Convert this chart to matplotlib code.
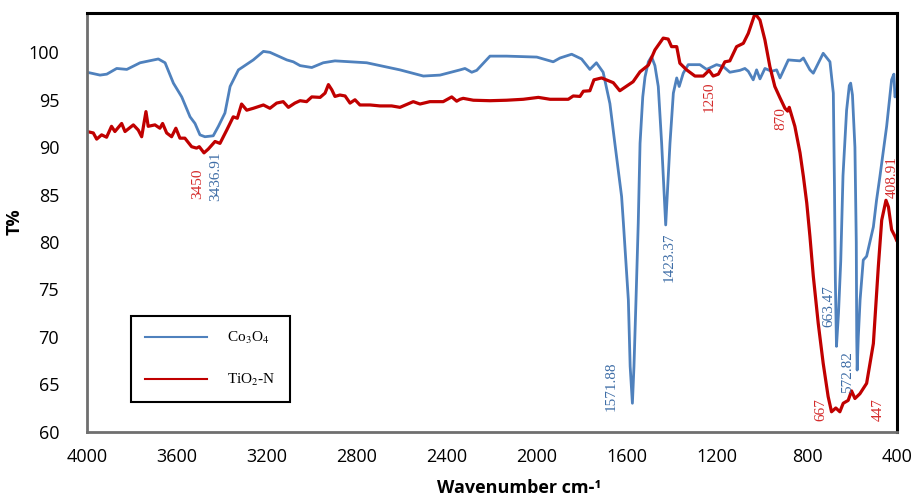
import matplotlib
matplotlib.use("Agg")
import matplotlib.pyplot as plt
from matplotlib.lines import Line2D

plt.rcParams['mathtext.fontset'] = 'stix'

# ---- data ----
wn_co3o4 = [4000, 3942, 3912, 3868, 3823, 3764, 3683, 3653, 3616, 3579, 3542, 3520,
            3498, 3476, 3439, 3416, 3387, 3364, 3327, 3261, 3216, 3187, 3112, 3083,
            3053, 3001, 2950, 2898, 2757, 2609, 2505, 2431, 2342, 2320, 2290, 2268,
            2209, 2135, 2001, 1928, 1898, 1846, 1802, 1765, 1736, 1706, 1676, 1654,
            1639, 1624, 1616, 1594, 1586, 1576, 1569, 1560, 1550, 1542, 1530, 1520,
            1505, 1491, 1476, 1461, 1446, 1428, 1409, 1394, 1379, 1368, 1350, 1328,
            1276, 1246, 1202, 1172, 1143, 1098, 1076, 1061, 1039, 1024, 1009, 987,
            957, 935, 920, 883, 831, 816, 787, 772, 728, 698, 683, 678, 674, 669,
            660, 650, 640, 624, 612, 606, 598, 587, 581, 579, 577, 572, 564, 550,
            535, 505, 491, 476, 446, 424, 414, 409, 405]
t_co3o4 = [97.9, 97.6, 97.7, 98.3, 98.2, 98.9, 99.3, 98.9, 96.75, 95.3, 93.2, 92.5,
           91.3, 91.1, 91.2, 92.2, 93.6, 96.4, 98.15, 99.2, 100.1, 100.0, 99.2, 99.0,
           98.6, 98.4, 98.9, 99.1, 98.9, 98.15, 97.5, 97.6, 98.15, 98.3, 97.9, 98.1,
           99.6, 99.6, 99.5, 99.0, 99.4, 99.8, 99.3, 98.2, 98.9, 97.9, 94.6, 90.4,
           87.6, 84.8, 82.0, 73.9, 66.9, 63.0, 66.9, 73.9, 82.0, 90.4, 95.3, 97.4,
           99.0, 99.55, 98.6, 96.4, 90.4, 81.8, 90.4, 95.7, 97.3, 96.4, 97.8, 98.7,
           98.7, 98.2, 98.7, 98.5, 97.9, 98.1, 98.3, 98.0, 97.1, 98.15, 97.2, 98.3,
           98.0, 98.15, 97.3, 99.2, 99.1, 99.4, 98.15, 97.8, 99.9, 99.0, 95.7, 86.0,
           76.0, 69.0, 72.5, 78.0, 87.0, 93.9, 96.5, 96.75, 95.5, 90.0, 80.0, 70.0,
           66.5, 70.0, 73.9, 78.1, 78.5, 81.6, 84.4, 86.9, 92.2, 97.1, 97.7, 95.3, 95.5]

wn_tio2n = [4000, 3972, 3957, 3935, 3913, 3891, 3876, 3846, 3831, 3794, 3772, 3757,
            3738, 3728, 3698, 3676, 3664, 3646, 3624, 3605, 3587, 3565, 3535, 3513,
            3501, 3480, 3461, 3431, 3409, 3379, 3350, 3332, 3313, 3290, 3261, 3216,
            3187, 3157, 3128, 3105, 3076, 3053, 3024, 3001, 2964, 2942, 2927, 2912,
            2898, 2876, 2853, 2831, 2809, 2787, 2742, 2698, 2646, 2609, 2550, 2520,
            2476, 2431, 2417, 2379, 2357, 2342, 2328, 2283, 2209, 2135, 2061, 1994,
            1942, 1861, 1839, 1809, 1794, 1765, 1747, 1713, 1661, 1632, 1610, 1573,
            1542, 1505, 1476, 1439, 1417, 1402, 1379, 1365, 1335, 1298, 1261, 1235,
            1217, 1194, 1165, 1143, 1113, 1083, 1061, 1031, 1009, 987, 965, 943,
            920, 898, 886, 879, 854, 831, 816, 801, 787, 772, 750, 728, 706, 691,
            672, 654, 639, 617, 602, 587, 565, 535, 505, 483, 468, 449, 438, 424, 409, 402]
t_tio2n = [91.65, 91.5, 90.85, 91.3, 91.05, 92.2, 91.65, 92.5, 91.65, 92.35, 91.8, 91.1,
           93.75, 92.2, 92.35, 92.0, 92.5, 91.5, 91.1, 92.0, 90.95, 90.95, 90.05, 89.9,
           90.05, 89.4, 89.8, 90.6, 90.4, 91.8, 93.2, 93.05, 94.55, 93.9, 94.1, 94.45,
           94.1, 94.65, 94.8, 94.2, 94.65, 94.9, 94.8, 95.3, 95.25, 95.7, 96.6, 96.05,
           95.35, 95.5, 95.4, 94.65, 95.0, 94.45, 94.45, 94.35, 94.35, 94.2, 94.8, 94.55,
           94.8, 94.8, 94.8, 95.3, 94.85, 95.05, 95.15, 94.95, 94.9, 94.95, 95.05, 95.25,
           95.05, 95.05, 95.4, 95.35, 95.9, 95.95, 97.1, 97.3, 96.8, 95.95, 96.3, 96.9,
           97.95, 98.65, 100.25, 101.5, 101.4, 100.6, 100.6, 98.85, 98.15, 97.5, 97.5, 98.1,
           97.5, 97.7, 99.0, 99.1, 100.6, 100.95, 102.0, 104.1, 103.4, 101.3, 98.5, 96.4,
           95.2, 94.1, 93.8, 94.2, 92.2, 89.4, 86.9, 84.1, 80.6, 76.4, 71.4, 67.2, 63.7, 62.1,
           62.5, 62.1, 63.0, 63.3, 64.3, 63.5, 64.0, 65.1, 69.3, 77.4, 82.3, 84.4, 83.7, 81.3,
           80.6, 80.2]

series_names = [r'Co$_3$O$_4$', r'TiO$_2$-N']
x_ticks = [4000, 3600, 3200, 2800, 2400, 2000, 1600, 1200, 800, 400]
y_ticks = [60, 65, 70, 75, 80, 85, 90, 95, 100]

# peak labels: text, wavenumber, T position, series index
peak_labels = ['3450', '3436.91', '1571.88', '1423.37', '1250', '870',
               '408.91', '663.47', '572.82', '667', '447']
peak_x = [3507, 3429, 1671, 1414, 1236, 916, 422, 702, 620, 738, 485]
peak_y = [86.1, 86.9, 64.8, 78.4, 95.3, 93.0, 86.9, 73.2, 66.3, 62.3, 62.3]
peak_series = [1, 0, 0, 0, 1, 1, 1, 0, 0, 1, 1]

line_colors = ['#4F81BD', '#C00000']
label_colors = ['#3E6DA6', '#D42B2B']

# ---- figure ----
fig = plt.figure(figsize=(9.15, 5.0), dpi=100)
ax = fig.add_axes([87/915, 1-431.7/500, 810/915, 419.2/500])

ax.plot(wn_co3o4, t_co3o4, color=line_colors[0], lw=2.0, solid_joinstyle='round')
ax.plot(wn_tio2n, t_tio2n, color=line_colors[1], lw=2.3, solid_joinstyle='round')

ax.set_xlim(4000, 400)
ax.set_ylim(60, 104.2)
ax.set_xticks(x_ticks)
ax.set_yticks(y_ticks)
ax.tick_params(length=0)
ax.tick_params(axis='y', pad=20)
ax.tick_params(axis='x', pad=12)
for lab in ax.get_xticklabels() + ax.get_yticklabels():
    lab.set_fontfamily('Open Sans')
    lab.set_fontsize(13)

for side in ['top', 'right']:
    ax.spines[side].set_color('black')
    ax.spines[side].set_linewidth(2.2)
for side in ['left', 'bottom']:
    ax.spines[side].set_color('#6f6f6f')
    ax.spines[side].set_linewidth(2.0)

ax.set_ylabel('T%', fontfamily='Open Sans', fontweight='bold', fontsize=13)
ax.yaxis.set_label_coords(-0.078, 0.5)
ax.set_xlabel('Wavenumber cm-\u00b9', fontfamily='Open Sans', fontweight='bold', fontsize=13)
ax.xaxis.set_label_coords(0.533, -0.112)

for txt, x, y, s in zip(peak_labels, peak_x, peak_y, peak_series):
    ax.text(x, y, txt, rotation=90, ha='center', va='center',
            fontfamily='Liberation Serif', fontsize=11, color=label_colors[s])

handles = [Line2D([], [], color=line_colors[0], lw=1.5),
           Line2D([], [], color=line_colors[1], lw=1.5)]
leg = ax.legend(handles, series_names, loc='lower left',
                bbox_to_anchor=(0.0543, 0.0709), borderaxespad=0,
                prop={'family': 'Liberation Serif', 'size': 11},
                handlelength=4.1, handletextpad=1.3, labelspacing=1.7,
                borderpad=0.9, fancybox=False, framealpha=1, edgecolor='black')
leg.get_frame().set_linewidth(1.5)

fig.savefig('out.png', dpi=100)
